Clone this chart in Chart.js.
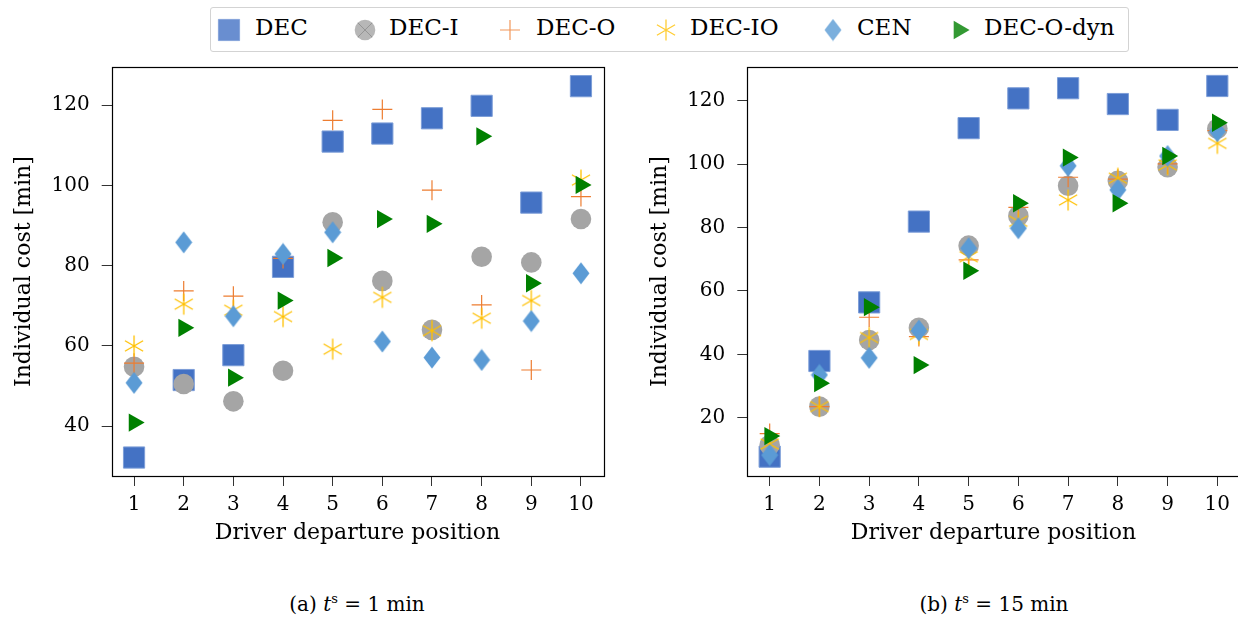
<!DOCTYPE html>
<html>
<head>
<meta charset="utf-8">
<title>Individual cost by driver departure position</title>
<script src="https://cdn.jsdelivr.net/npm/chart.js@4.4.0/dist/chart.umd.min.js"></script>
<style>
  body { margin: 0; width: 1238px; height: 617px; overflow: hidden; background: #fff; position: relative; font-family: "DejaVu Serif", serif; }
  .panel { position: absolute; top: 60px; }
  #panelA { left: 0px; }
  #panelB { left: 640px; }
  #legend { position: absolute; left: 210px; top: 7px; width: 917px; height: 43px; border: 1px solid #d3d3d3; border-radius: 3px; }
  #legend canvas, #legend span { position: absolute; }
  #legend span { font-size: 23px; top: 6px; color: #000; white-space: nowrap; }
  .caption { position: absolute; top: 591px; width: 300px; text-align: center; font-size: 20px; color: #000; }
  .caption sup { font-size: 13px; }
</style>
</head>
<body>
<div id="legend"></div>
<canvas id="panelA" class="panel" width="620" height="500"></canvas>
<canvas id="panelB" class="panel" width="620" height="500"></canvas>
<div class="caption" style="left:207px">(a) <i>t</i><sup>s</sup> = 1 min</div>
<div class="caption" style="left:844px">(b) <i>t</i><sup>s</sup> = 15 min</div>

<script>
const positions = [1, 2, 3, 4, 5, 6, 7, 8, 9, 10];
const seriesNames = ["DEC", "DEC-I", "DEC-O", "DEC-IO", "CEN", "DEC-O-dyn"];

// t^s = 1 min
const decA = [32.2, 51.5, 57.7, 79.7, 110.9, 112.9, 116.7, 119.8, 95.7, 124.7];
const decIA = [54.8, 50.5, 46.2, 53.8, 90.8, 76.2, 64.0, 82.2, 80.8, 91.6];
const decOA = [55.7, 73.7, 72.4, 81.8, 116.2, 118.9, 98.8, 70.2, 54.0, 97.2];
const decIOA = [60.0, 70.4, 68.9, 67.3, 59.2, 72.1, 63.8, 66.9, 71.3, 101.3];
const cenA = [50.8, 85.8, 67.4, 82.9, 88.3, 61.1, 57.1, 56.5, 66.2, 78.1];
const dynA = [40.9, 64.5, 52.1, 71.3, 81.9, 91.6, 90.4, 112.2, 75.6, 100.1];

// t^s = 15 min
const decB = [7.7, 37.9, 56.4, 81.9, 111.4, 120.8, 124.0, 119.0, 114.0, 124.7];
const decIB = [11.4, 23.5, 44.5, 48.4, 74.3, 83.7, 93.2, 94.8, 99.1, 111.2];
const decOB = [15.0, 23.5, 51.7, 45.6, 69.8, 86.4, 95.9, 95.3, 100.1, 110.6];
const decIOB = [11.7, 23.5, 45.3, 46.3, 70.8, 82.0, 88.7, 95.6, 99.8, 106.6];
const cenB = [8.2, 33.5, 38.9, 47.5, 73.5, 79.8, 99.5, 91.9, 102.6, 110.4];
const dynB = [14.2, 30.9, 54.9, 36.6, 66.4, 87.7, 102.1, 87.7, 102.6, 113.1];

const yTicksA = [40, 60, 80, 100, 120];
const yTicksB = [20, 40, 60, 80, 100, 120];

let colors = ["#4472C4", "#A5A5A5", "#ED7D31", "#FFC000", "#5B9BD5", "#008000"];
const fontFamily = "'DejaVu Serif', serif";

// markers that chart.js has no built-in style for
function makeDiamond(color) {
  let c = document.createElement("canvas");
  c.width = 18; c.height = 23;
  let g = c.getContext("2d");
  g.fillStyle = color;
  g.beginPath();
  g.moveTo(9, 0.5); g.lineTo(17.5, 11.5); g.lineTo(9, 22.5); g.lineTo(0.5, 11.5);
  g.closePath();
  g.fill();
  return c;
}

function makeAsterisk(color) {
  let c = document.createElement("canvas");
  c.width = 24; c.height = 24;
  let g = c.getContext("2d");
  g.strokeStyle = color;
  g.lineWidth = 1.3;
  g.beginPath();
  [90, 30, 150].forEach(function (deg) {
    let a = deg * Math.PI / 180;
    let dx = Math.cos(a) * 10.5, dy = Math.sin(a) * 10.5;
    g.moveTo(12 - dx, 12 - dy);
    g.lineTo(12 + dx, 12 + dy);
  });
  g.stroke();
  return c;
}

let diamond = makeDiamond(colors[4]);
let asterisk = makeAsterisk(colors[3]);

// per-series marker settings, also reused for the legend
let markers = [
  { pointStyle: "rect", radius: 15, bg: colors[0], border: "#7d9ed8", borderWidth: 1, rotation: 0 },
  { pointStyle: "circle", radius: 10.3, bg: colors[1], border: colors[1], borderWidth: 0, rotation: 0 },
  { pointStyle: "cross", radius: 10, bg: colors[2], border: colors[2], borderWidth: 1.2, rotation: 0 },
  { pointStyle: asterisk, radius: 10, bg: colors[3], border: colors[3], borderWidth: 0, rotation: 0 },
  { pointStyle: diamond, radius: 10, bg: colors[4], border: colors[4], borderWidth: 0, rotation: 0 },
  { pointStyle: "triangle", radius: 10.6, bg: colors[5], border: colors[5], borderWidth: 0, rotation: 90 },
];

function toPoints(values) {
  return values.map(function (v, i) { return { x: positions[i], y: v }; });
}

function makeDatasets(series) {
  return series.map(function (values, i) {
    let m = markers[i];
    return {
      label: seriesNames[i],
      data: toPoints(values),
      pointStyle: m.pointStyle,
      pointRadius: m.radius,
      pointBackgroundColor: m.bg,
      pointBorderColor: m.border,
      pointBorderWidth: m.borderWidth,
      pointRotation: m.rotation,
      // later series are drawn on top
      order: series.length - i,
      clip: false,
    };
  });
}

// full box around the plot area
const frame = {
  id: "frame",
  beforeDatasetsDraw(chart) {
    let a = chart.chartArea;
    let ctx = chart.ctx;
    ctx.save();
    ctx.strokeStyle = "#000";
    ctx.lineWidth = 1.2;
    ctx.strokeRect(Math.round(a.left) + 0.5, Math.round(a.top) + 0.5,
      Math.round(a.right - a.left), Math.round(a.bottom - a.top));
    ctx.restore();
  },
};

// fixed axis sizes; the label overhang padding is dropped so the plot box stays put
function fixHeight(h) {
  return function (s) { s.height = h; s.paddingLeft = 0; s.paddingRight = 0; };
}
function fixWidth(w) {
  return function (s) { s.width = w; s.paddingTop = 0; s.paddingBottom = 0; };
}

function makeOptions(yMin, yMax, yTicks, yWidth, padRight, titlePad) {
  return {
    responsive: false,
    animation: false,
    events: [],
    layout: { autoPadding: false, padding: { top: 7.3, right: padRight, bottom: 0, left: 0 } },
    plugins: { legend: { display: false }, tooltip: { enabled: false } },
    scales: {
      x: {
        type: "linear",
        min: 0.55,
        max: 10.45,
        afterBuildTicks: function (s) { s.ticks = positions.map(function (v) { return { value: v }; }); },
        afterFit: fixHeight(84),
        border: { display: false },
        grid: { drawOnChartArea: false, drawTicks: true, tickLength: 10, color: "#333", lineWidth: 1 },
        ticks: { color: "#000", padding: 7, maxRotation: 0, font: { family: fontFamily, size: 20 } },
        title: {
          display: true, text: "Driver departure position", color: "#000",
          font: { family: fontFamily, size: 22 }, padding: { top: 0, bottom: 14 },
        },
      },
      y: {
        type: "linear",
        min: yMin,
        max: yMax,
        afterBuildTicks: function (s) { s.ticks = yTicks.map(function (v) { return { value: v }; }); },
        afterFit: fixWidth(yWidth),
        border: { display: false },
        grid: { drawOnChartArea: false, drawTicks: true, tickLength: 10, color: "#333", lineWidth: 1 },
        ticks: { color: "#000", padding: 12, font: { family: fontFamily, size: 20 } },
        title: {
          display: true, text: "Individual cost [min]", color: "#000",
          font: { family: fontFamily, size: 22 }, padding: { top: titlePad, bottom: 0 },
        },
      },
    },
  };
}

new Chart(document.getElementById("panelA"), {
  type: "scatter",
  data: { datasets: makeDatasets([decA, decIA, decOA, decIOA, cenA, dynA]) },
  options: makeOptions(27.6, 129.4, yTicksA, 111.7, 16.7, 11),
  plugins: [frame],
});

new Chart(document.getElementById("panelB"), {
  type: "scatter",
  data: { datasets: makeDatasets([decB, decIB, decOB, decIOB, cenB, dynB]) },
  options: makeOptions(1.6, 130.6, yTicksB, 107.3, 20.3, 7),
  plugins: [frame],
});

// shared legend above both panels
let legend = document.getElementById("legend");
let markerX = [18, 154, 299, 455, 622, 748];
let textX = [44, 178, 325, 479, 646, 773];

seriesNames.forEach(function (name, i) {
  let m = markers[i];
  let c = document.createElement("canvas");
  c.width = 30; c.height = 30;
  c.style.left = (markerX[i] - 15) + "px";
  c.style.top = "7px";
  legend.appendChild(c);
  let g = c.getContext("2d");
  g.globalAlpha = 0.8;
  g.fillStyle = m.bg;
  g.strokeStyle = m.border;
  g.lineWidth = m.borderWidth;
  Chart.helpers.drawPoint(g, {
    pointStyle: m.pointStyle, radius: m.radius, rotation: m.rotation, borderWidth: m.borderWidth,
  }, 15, 15);
  if (i === 1) {
    // the DEC-I key carries a faint cross
    g.strokeStyle = "#8c8c8c";
    g.lineWidth = 1;
    Chart.helpers.drawPoint(g, { pointStyle: "crossRot", radius: 10, rotation: 0, borderWidth: 1 }, 15, 15);
  }
  let s = document.createElement("span");
  s.textContent = name;
  s.style.left = textX[i] + "px";
  legend.appendChild(s);
});
</script>
</body>
</html>
